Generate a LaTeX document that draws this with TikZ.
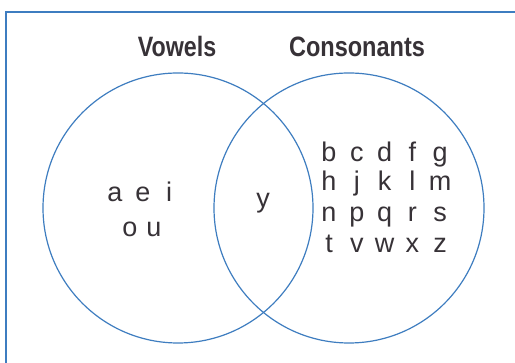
\documentclass[tikz,border=0pt]{standalone}
\usepackage{fontspec}
\setmainfont{Liberation Sans}
\definecolor{vblue}{RGB}{62,125,192}
\definecolor{vtext}{RGB}{55,50,55}
\begin{document}
\begin{tikzpicture}[x=1pt,y=-1pt,
  frame/.style={draw=vblue,line width=1.6pt},
  setcircle/.style={draw=vblue,line width=1.2pt},
  head/.style={anchor=base,text=vtext,font=\fontsize{28}{30}\selectfont\bfseries,inner sep=0pt},
  letter/.style={anchor=base,text=vtext,font=\fontsize{27}{30}\selectfont,inner sep=0pt}]
\useasboundingbox (0,0) rectangle (515,363);
\fill[white] (0,0) rectangle (515,363);
\draw[frame] (6,363) -- (6,12) -- (515,12);
\draw[setcircle] (178,208) circle (135);
\draw[setcircle] (349,208) circle (135);
\node[head] (vow) at (177,57) {\scalebox{0.83}[1]{Vowels}};
\node[head] (con) at (357,57) {\scalebox{0.84}[1]{Consonants}};
% vowels
\node[letter] (va) at (115,202) {a};
\node[letter] (ve) at (143,202) {e};
\node[letter] (vi) at (169,202) {i};
\node[letter] (vo) at (130,237) {o};
\node[letter] (vu) at (154,237) {u};
% both
\node[letter] (vy) at (263,208) {y};
% consonants
\foreach \l [count=\i from 0] in {b,c,d,f,g}
  \node[letter] (c1\i) at (329+27.8*\i,162) {\l};
\foreach \l [count=\i from 0] in {h,j,k,l,m}
  \node[letter] (c2\i) at (329+27.8*\i,191) {\l};
\foreach \l [count=\i from 0] in {n,p,q,r,s}
  \node[letter] (c3\i) at (329+27.8*\i,222) {\l};
\foreach \l [count=\i from 0] in {t,v,w,x,z}
  \node[letter] (c4\i) at (329+27.8*\i,253) {\l};
\end{tikzpicture}
\end{document}
